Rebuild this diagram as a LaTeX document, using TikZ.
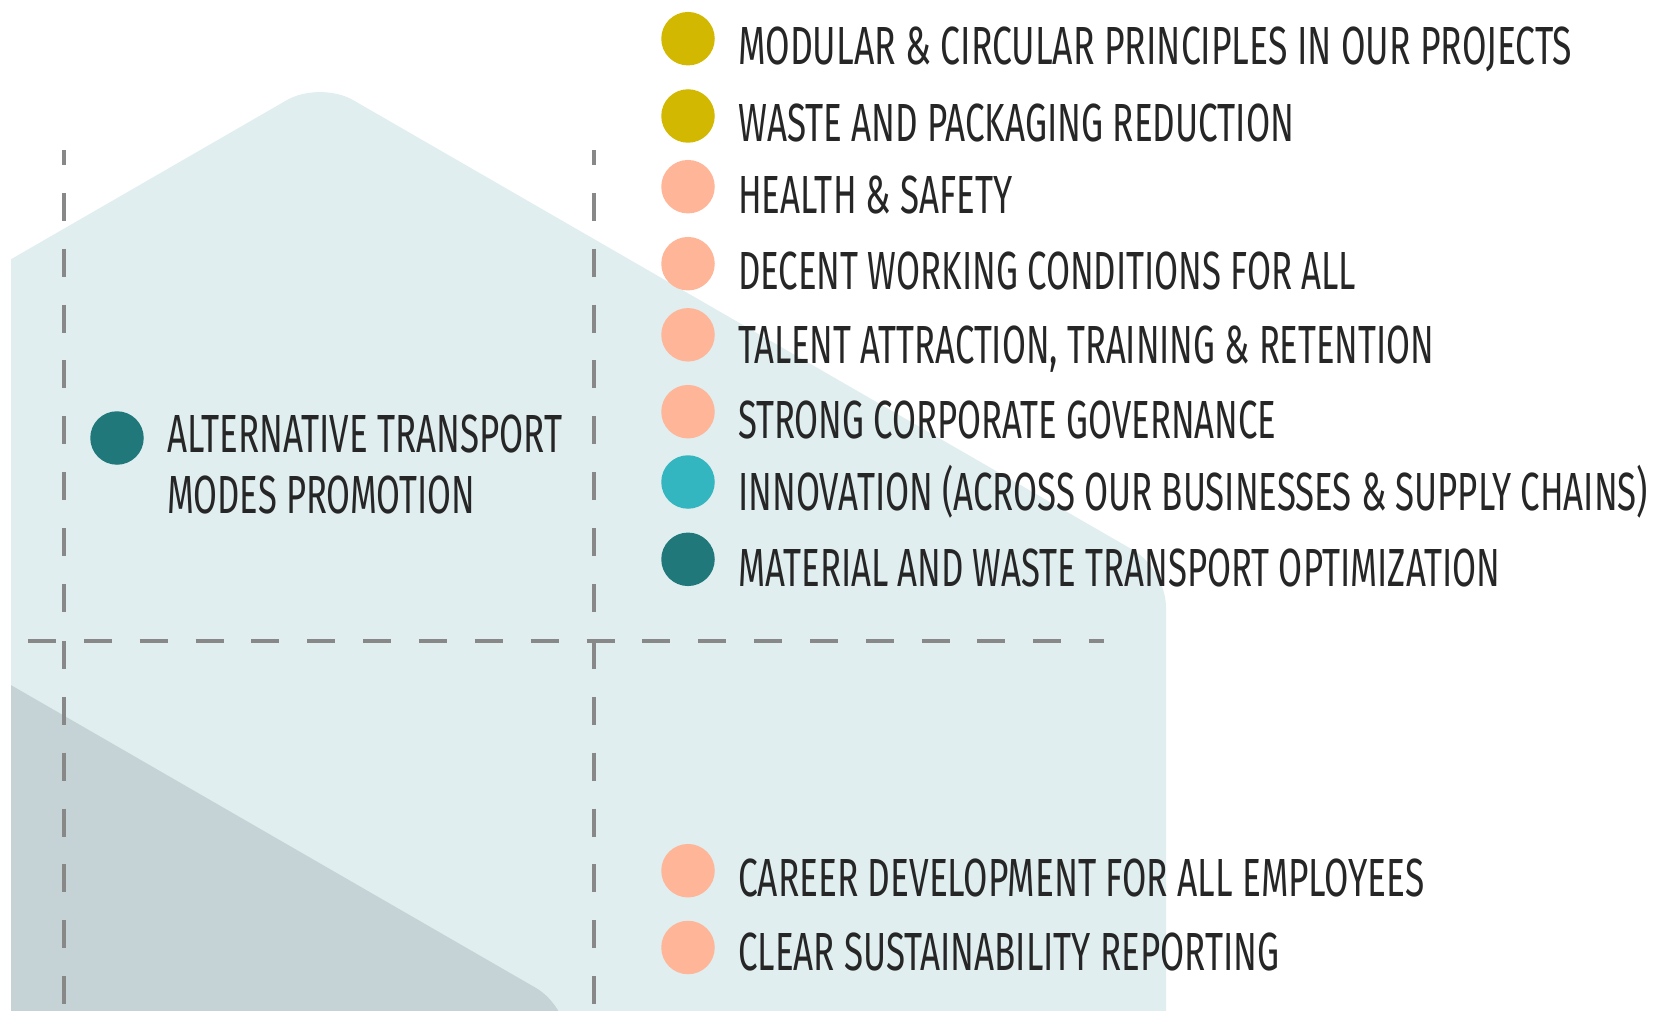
\documentclass[tikz,border=0pt]{standalone}
\usepackage{fontspec}
\setmainfont{Fira Sans}
\usepackage{graphicx}
\definecolor{hexlight}{HTML}{E0EEEF}
\definecolor{hexgrey}{HTML}{C5D3D6}
\definecolor{gridgrey}{HTML}{888888}
\definecolor{dyellow}{HTML}{D2B800}
\definecolor{dpeach}{HTML}{FFB598}
\definecolor{dcyan}{HTML}{33B6BF}
\definecolor{dteal}{HTML}{21787A}
\definecolor{txt}{HTML}{262626}
\newcommand\fitw[2]{\resizebox{#1pt}{\height}{#2}}
\begin{document}
\begin{tikzpicture}[x=1pt,y=-1pt,
  gridline/.style={draw=gridgrey, line width=4.5pt, dash pattern=on 28pt off 27.85pt},
  dot/.style={circle, inner sep=0pt, minimum size=53.5pt},
  lbl/.style={anchor=base west, inner sep=0pt, text=txt, font=\fontsize{53.7pt}{60pt}\selectfont}]
\useasboundingbox (0,0) rectangle (1655,1011);
\begin{scope}
  \clip (11,0) rectangle (1655,1011);
  \fill[hexlight, rounded corners=38pt] (-526,569) -- (320,81) -- (1166,569) -- (1166,1546) -- (-526,1546) -- cycle;
  \fill[hexgrey, rounded corners=38pt] (-277,519) -- (569,1007) -- (569,1500) -- (-700,1500) -- cycle;
\end{scope}
% grid coordinates
\coordinate (v1t) at (64,150);
\coordinate (v1m) at (64,613);
\coordinate (v1b) at (64,641);
\coordinate (v1e) at (64,1011);
\coordinate (v2t) at (594,150);
\coordinate (v2m) at (594,613);
\coordinate (v2b) at (594,641);
\coordinate (v2e) at (594,1011);
\coordinate (hl) at (28,641);
\coordinate (hr) at (1104,641);
\draw[gridline, dash phase=13pt] (v1t) -- (v1m);
\draw[gridline, dash phase=13pt] (v2t) -- (v2m);
\draw[gridline] (v1b) -- (v1e);
\draw[gridline] (v2b) -- (v2e);
\draw[gridline] (hl) -- (hr);
% left item
\node[dot, fill=dteal] (d0) at (117,438) {};
\node[lbl] (t0a) at (167,452.7) {\fitw{395}{ALTERNATIVE TRANSPORT}};
\node[lbl] (t0b) at (167,513.3) {\fitw{308}{MODES PROMOTION}};
% right items
\node[dot, fill=dyellow] (d1) at (688,38.7) {};
\node[dot, fill=dyellow] (d2) at (688,116) {};
\node[dot, fill=dpeach] (d3) at (688,186.7) {};
\node[dot, fill=dpeach] (d4) at (688,263.7) {};
\node[dot, fill=dpeach] (d5) at (688,334.8) {};
\node[dot, fill=dpeach] (d6) at (688,411.7) {};
\node[dot, fill=dcyan] (d7) at (688,482) {};
\node[dot, fill=dteal] (d8) at (688,559.3) {};
\node[dot, fill=dpeach] (d9) at (688,870.7) {};
\node[dot, fill=dpeach] (d10) at (688,947.5) {};
\node[lbl] (t1) at (738,65) {\fitw{834}{MODULAR \& CIRCULAR PRINCIPLES IN OUR PROJECTS}};
\node[lbl] (t2) at (738,141.7) {\fitw{556}{WASTE AND PACKAGING REDUCTION}};
\node[lbl] (t3) at (738,214) {\fitw{274}{HEALTH \& SAFETY}};
\node[lbl] (t4) at (738,289.3) {\fitw{618}{DECENT WORKING CONDITIONS FOR ALL}};
\node[lbl] (t5) at (738,363.3) {\fitw{696}{TALENT ATTRACTION, TRAINING \& RETENTION}};
\node[lbl] (t6) at (738,438.3) {\fitw{538}{STRONG CORPORATE GOVERNANCE}};
\node[lbl] (t7) at (738,510.7) {\fitw{910}{INNOVATION (ACROSS OUR BUSINESSES \& SUPPLY CHAINS)}};
\node[lbl] (t8) at (738,586) {\fitw{762}{MATERIAL AND WASTE TRANSPORT OPTIMIZATION}};
\node[lbl] (t9) at (738,896) {\fitw{686}{CAREER DEVELOPMENT FOR ALL EMPLOYEES}};
\node[lbl] (t10) at (738,970.7) {\fitw{541}{CLEAR SUSTAINABILITY REPORTING}};
\end{tikzpicture}
\end{document}
